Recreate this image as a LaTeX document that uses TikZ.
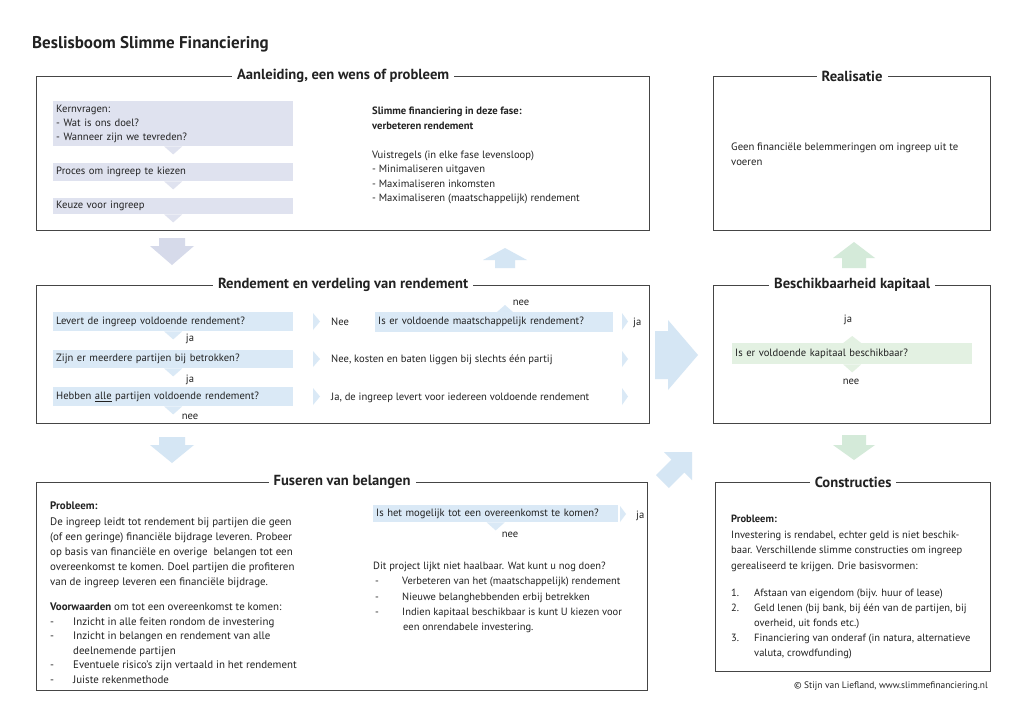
\documentclass[tikz,border=0pt]{standalone}
\usepackage{fontspec}
\setmainfont{PT Sans}
\usetikzlibrary{positioning}

\definecolor{framegray}{HTML}{454545}
\definecolor{inkgray}{HTML}{222222}
\definecolor{lavfill}{HTML}{DFE2EF}
\definecolor{bluefill}{HTML}{DAE9F6}
\definecolor{greenfill}{HTML}{E3F1E2}
\definecolor{lavarrow}{HTML}{D6DAEA}
\definecolor{bluearrow}{HTML}{D5E6F4}
\definecolor{greenarrow}{HTML}{D4EAD9}

\begin{document}
\begin{tikzpicture}[x=1pt,y=-1pt,text=inkgray,
    phase/.style={draw=framegray,line width=1.2pt,anchor=north west,inner sep=0pt},
    phasetitle/.style={fill=white,inner xsep=5pt,inner ysep=2pt,font=\bfseries\fontsize{14.6}{17}\selectfont},
    body/.style={anchor=base west,inner sep=0pt,align=left,font=\fontsize{10.6}{14.5}\selectfont},
    block/.style={anchor=north west,inner sep=0pt,align=left,font=\fontsize{10.6}{14.5}\selectfont},
    qbox/.style={anchor=north west,inner xsep=3pt,inner ysep=0pt,text width=234pt,align=left,font=\fontsize{10.6}{14}\selectfont},
    lab/.style={anchor=base,inner sep=0pt,font=\fontsize{10.6}{12}\selectfont}]
  \useasboundingbox[fill=white] (0,0) rectangle (1024,724);

  \node[anchor=base west,inner sep=0pt,font=\bfseries\fontsize{17}{19}\selectfont] (title) at (32,48) {Beslisboom Slimme Financiering};

  % phase boxes
  \node[phase,minimum width=613pt,minimum height=154pt] (aanleiding) at (36,76) {};
  \node[phase,minimum width=277pt,minimum height=154pt] (realisatie) at (713,76) {};
  \node[phase,minimum width=613pt,minimum height=138pt] (rendement) at (36,285) {};
  \node[phase,minimum width=277pt,minimum height=138pt] (kapitaal) at (713,285) {};
  \node[phase,minimum width=611pt,minimum height=208pt] (fuseren) at (36,482) {};
  \node[phase,minimum width=275pt,minimum height=189pt] (constructies) at (715,482) {};

  \node[phasetitle] at (aanleiding.north) {Aanleiding, een wens of probleem};
  \node[phasetitle] at (realisatie.north) {Realisatie};
  \node[phasetitle] at (rendement.north) {Rendement en verdeling van rendement};
  \node[phasetitle] at (kapitaal.north) {Beschikbaarheid kapitaal};
  \node[phasetitle] at (fuseren.north) {Fuseren van belangen};
  \node[phasetitle] at (constructies.north) {Constructies};

  % big arrows between the phases
  \fill[lavarrow] (159,238) -- (185,238) -- (185,246) -- (194,246) -- (172,265) -- (150,246) -- (159,246) -- cycle;
  \fill[bluearrow] (505,248) -- (527,260) -- (515,260) -- (515,268) -- (495,268) -- (495,260) -- (483,260) -- cycle;
  \fill[bluearrow] (159,437) -- (185,437) -- (185,445) -- (194,445) -- (172,463) -- (150,445) -- (159,445) -- cycle;
  \fill[bluearrow] (655,331) -- (668,331) -- (668,320) -- (698,355) -- (668,390) -- (668,379) -- (655,379) -- cycle;
  \fill[bluearrow] (692,452) -- (692,480) -- (684.4,472.4) -- (668.8,488) -- (656,475.2) -- (671.6,459.6) -- (664,452) -- cycle;
  \fill[greenarrow] (854,242) -- (875,258) -- (866,258) -- (866,268) -- (842,268) -- (842,258) -- (833,258) -- cycle;
  \fill[greenarrow] (842,435) -- (866,435) -- (866,445) -- (875,445) -- (854,460) -- (833,445) -- (842,445) -- cycle;

  % Aanleiding
  \node[qbox,fill=lavfill,minimum height=45pt] (kern) at (53,101) {Kernvragen:\\- Wat is ons doel?\\- Wanneer zijn we tevreden?};
  \node[qbox,fill=lavfill,minimum height=18pt] (proces) at (53,163) {Proces om ingreep te kiezen};
  \node[qbox,fill=lavfill,minimum height=16pt] (keuze) at (53,198) {Keuze voor ingreep};
  \fill[lavfill] ([xshift=-9pt]kern.south) -- ([xshift=9pt]kern.south) -- ([yshift=-8pt]kern.south) -- cycle;
  \fill[lavfill] ([xshift=-9pt]proces.south) -- ([xshift=9pt]proces.south) -- ([yshift=-8pt]proces.south) -- cycle;
  \fill[lavfill] ([xshift=-9pt]keuze.south) -- ([xshift=9pt]keuze.south) -- ([yshift=-8pt]keuze.south) -- cycle;
  \node[block] (fase) at (372,107) {\textbf{Slimme financiering in deze fase:}\\\textbf{verbeteren rendement}\\[14.5pt]
    Vuistregels (in elke fase levensloop)\\- Minimaliseren uitgaven\\- Maximaliseren inkomsten\\- Maximaliseren (maatschappelijk) rendement};

  % Realisatie
  \node[block,font=\fontsize{10.7}{14.5}\selectfont] (geen) at (731,143) {Geen financiële belemmeringen om ingreep uit te\\voeren};

  % Rendement
  \node[qbox,fill=bluefill,minimum height=19pt] (levert) at (53,312) {Levert de ingreep voldoende rendement?};
  \node[qbox,fill=bluefill,minimum height=18pt] (meerdere) at (53,350) {Zijn er meerdere partijen bij betrokken?};
  \node[qbox,fill=bluefill,minimum height=19pt] (alle) at (53,387) {Hebben \underline{alle} partijen voldoende rendement?};
  \fill[bluefill] ([xshift=-9pt]levert.south) -- ([xshift=9pt]levert.south) -- ([yshift=-8pt]levert.south) -- cycle;
  \fill[bluefill] ([xshift=-9pt]meerdere.south) -- ([xshift=9pt]meerdere.south) -- ([yshift=-8pt]meerdere.south) -- cycle;
  \fill[bluefill] ([xshift=-9pt]alle.south) -- ([xshift=9pt]alle.south) -- ([yshift=-8pt]alle.south) -- cycle;
  \node[lab] (ja1) at (190,341) {ja};
  \node[lab] (ja2) at (190,382) {ja};
  \node[lab] (nee1) at (190,419) {nee};
  \fill[bluefill] (313,313) -- (320,321.5) -- (313,330) -- cycle;
  \fill[bluefill] (313,351) -- (320,359) -- (313,367) -- cycle;
  \fill[bluefill] (313,388) -- (320,396.5) -- (313,405) -- cycle;
  \node[body] (nee2) at (331,325) {Nee};
  \node[qbox,fill=bluefill,text width=232pt,minimum height=20pt] (maat) at (375,312) {Is er voldoende maatschappelijk rendement?};
  \fill[bluefill] (497,312) -- (513,312) -- (505,305) -- cycle;
  \node[lab] (nee3) at (521,305) {nee};
  \fill[bluefill] (622,313) -- (628,321.5) -- (622,330) -- cycle;
  \node[body] (ja3) at (633,325) {ja};
  \node[body] (kosten) at (331,362) {Nee, kosten en baten liggen bij slechts één partij};
  \fill[bluefill] (622,351) -- (628,359) -- (622,367) -- cycle;
  \node[body] (iedereen) at (331,400) {Ja, de ingreep levert voor iedereen voldoende rendement};
  \fill[bluefill] (622,388) -- (628,396.5) -- (622,405) -- cycle;

  % Beschikbaarheid kapitaal
  \node[lab] (ja4) at (848,322) {ja};
  \node[qbox,fill=greenfill,minimum height=21pt] (voldoende) at (732,343) {Is er voldoende kapitaal beschikbaar?};
  \fill[greenfill] ([xshift=-9pt]voldoende.north) -- ([xshift=9pt]voldoende.north) -- ([yshift=7pt]voldoende.north) -- cycle;
  \fill[greenfill] ([xshift=-9pt]voldoende.south) -- ([xshift=9pt]voldoende.south) -- ([yshift=-8pt]voldoende.south) -- cycle;
  \node[lab] (nee4) at (851,384) {nee};

  % Fuseren
  \node[block,font=\fontsize{10.9}{15.2}\selectfont] (fprobleem) at (50,502) {\textbf{Probleem:}\\
    De ingreep leidt tot rendement bij partijen die geen\\
    (of een geringe) financiële bijdrage leveren. Probeer\\
    op basis van financiële en overige\ \ belangen tot een\\
    overeenkomst te komen. Doel partijen die profiteren\\
    van de ingreep leveren een financiële bijdrage.};
  \node[block,font=\fontsize{10.9}{14.5}\selectfont] (voorwaarden) at (50,603) {\textbf{Voorwaarden} om tot een overeenkomst te komen:\\
    \makebox[23pt][l]{-}Inzicht in alle feiten rondom de investering\\
    \makebox[23pt][l]{-}Inzicht in belangen en rendement van alle\\
    \hspace*{23pt}deelnemende partijen\\
    \makebox[23pt][l]{-}Eventuele risico’s zijn vertaald in het rendement\\
    \makebox[23pt][l]{-}Juiste rekenmethode};
  \node[qbox,fill=bluefill,text width=239pt,minimum height=17pt] (mogelijk) at (373,505) {Is het mogelijk tot een overeenkomst te komen?};
  \fill[bluefill] ([xshift=-9pt]mogelijk.south) -- ([xshift=9pt]mogelijk.south) -- ([yshift=-8pt]mogelijk.south) -- cycle;
  \node[lab] (nee5) at (510,537) {nee};
  \fill[bluefill] (620,506) -- (626,514) -- (620,522) -- cycle;
  \node[body] (ja5) at (636,518) {ja};
  \node[block,font=\fontsize{10.5}{15.2}\selectfont] (haalbaar) at (373,562) {Dit project lijkt niet haalbaar. Wat kunt u nog doen?\\
    \makebox[29pt][l]{\hspace{2pt}-}Verbeteren van het (maatschappelijk) rendement\\
    \makebox[29pt][l]{\hspace{2pt}-}Nieuwe belanghebbenden erbij betrekken\\
    \makebox[29pt][l]{\hspace{2pt}-}Indien kapitaal beschikbaar is kunt U kiezen voor\\
    \hspace*{30pt}een onrendabele investering.};

  % Constructies
  \node[block,font=\fontsize{10.5}{15.5}\selectfont] (cprobleem) at (731,515) {\textbf{Probleem:}\\
    Investering is rendabel, echter geld is niet beschik-\\
    baar. Verschillende slimme constructies om ingreep\\
    gerealiseerd te krijgen. Drie basisvormen:};
  \node[block,font=\fontsize{10.5}{15}\selectfont] (vormen) at (731,589) {\makebox[23pt][l]{1.}Afstaan van eigendom (bijv. huur of lease)\\
    \makebox[23pt][l]{2.}Geld lenen (bij bank, bij één van de partijen, bij\\
    \hspace*{23pt}overheid, uit fonds etc.)\\
    \makebox[23pt][l]{3.}Financiering van onderaf (in natura, alternatieve\\
    \hspace*{23pt}valuta, crowdfunding)};

  \node[anchor=base east,inner sep=0pt,font=\fontsize{9.4}{11}\selectfont] (bron) at (988,688) {© Stijn van Liefland, www.slimmefinanciering.nl};
\end{tikzpicture}
\end{document}
